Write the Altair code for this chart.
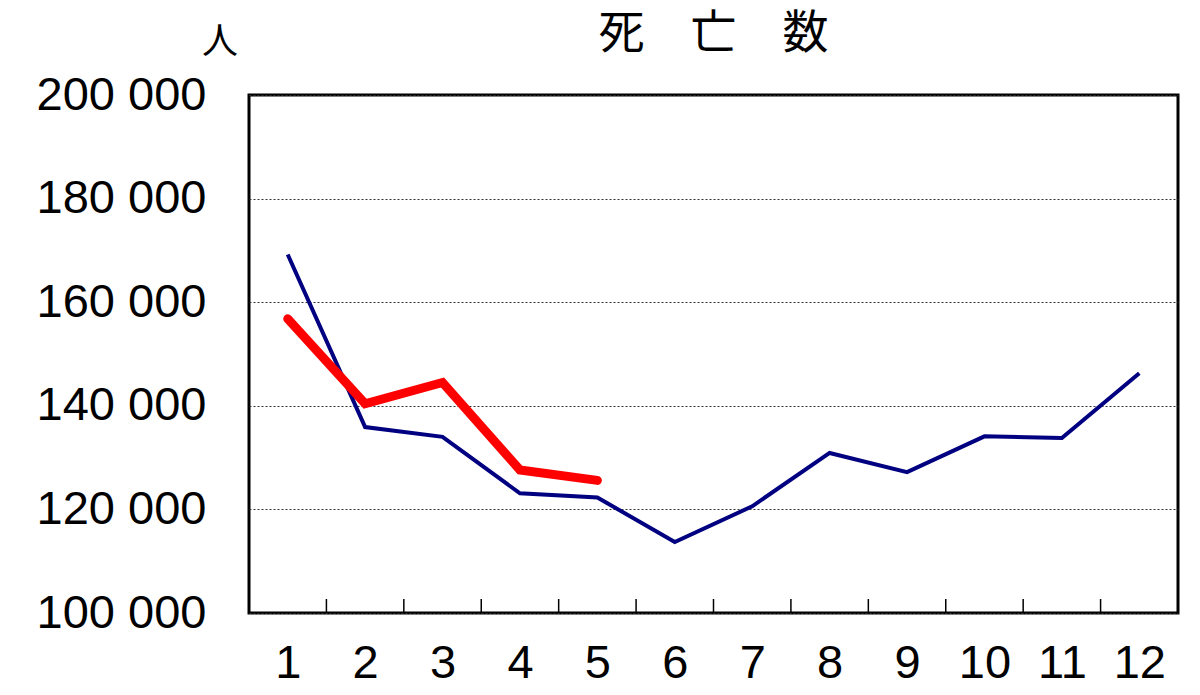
import altair as alt
import pandas as pd

months = list(range(1, 13))
prev_year = [169200, 135900, 134000, 123100, 122300, 113700, 120600, 130900, 127200, 134100, 133800, 146300]
this_year = [156800, 140400, 144500, 127600, 125600]
tick_positions = [1.5, 2.5, 3.5, 4.5, 5.5, 6.5, 7.5, 8.5, 9.5, 10.5, 11.5]
y_ticks = [100000, 120000, 140000, 160000, 180000, 200000]
title_text = "死　亡　数"
unit_text = "人"

df_prev = pd.DataFrame({"month": months, "deaths": prev_year})
df_this = pd.DataFrame({"month": months[:len(this_year)], "deaths": this_year})
df_ticks = pd.DataFrame({"pos": tick_positions})

W, H = 929, 518

x_scale = alt.Scale(domain=[0.5, 12.5], nice=False)
y_scale = alt.Scale(domain=[100000, 200000], nice=False)

x_axis = alt.Axis(values=months, format="d", title=None, grid=False, domain=False,
                  ticks=False, labelFont="Liberation Sans", labelFontSize=47,
                  labelColor="black", labelPadding=27)
y_axis = alt.Axis(values=y_ticks, grid=True, gridColor="#333333", gridDash=[2, 2],
                  gridWidth=1, domain=False, ticks=False,
                  labelExpr="replace(format(datum.value, ','), ',', ' ')",
                  labelFont="Liberation Sans", labelFontSize=47, labelColor="black",
                  labelPadding=43, title=None)

prev_line = alt.Chart(df_prev).mark_line(color="#000080", strokeWidth=4).encode(
    x=alt.X("month:Q", scale=x_scale, axis=x_axis),
    y=alt.Y("deaths:Q", scale=y_scale, axis=y_axis),
)

this_line = alt.Chart(df_this).mark_line(color="#ff0000", strokeWidth=9,
                                         strokeCap="round", strokeJoin="miter").encode(
    x=alt.X("month:Q", scale=x_scale),
    y=alt.Y("deaths:Q", scale=y_scale),
)

ticks = alt.Chart(df_ticks).mark_rule(color="black", strokeWidth=1.5).encode(
    x=alt.X("pos:Q", scale=x_scale),
    y=alt.value(H),
    y2=alt.value(H - 14),
)

title_mark = alt.Chart(pd.DataFrame({"t": [title_text]})).mark_text(
    font="Noto Sans CJK JP", fontSize=46, color="black", align="center",
    baseline="alphabetic", clip=False
).encode(text="t:N", x=alt.value(W / 2), y=alt.value(-47))

unit_mark = alt.Chart(pd.DataFrame({"t": [unit_text]})).mark_text(
    font="Noto Sans CJK JP", fontSize=36, color="black", align="center",
    baseline="alphabetic", clip=False
).encode(text="t:N", x=alt.value(-29), y=alt.value(-41))

chart = alt.layer(ticks, prev_line, this_line, title_mark, unit_mark).properties(
    width=W, height=H,
    padding={"left": 241, "top": 87, "right": 14, "bottom": 74},
    autosize=alt.AutoSizeParams(type="none"),
    background="white",
).configure_view(stroke="black", strokeWidth=3)

chart.save("out.html", embed_options={"renderer": "svg", "actions": False})
